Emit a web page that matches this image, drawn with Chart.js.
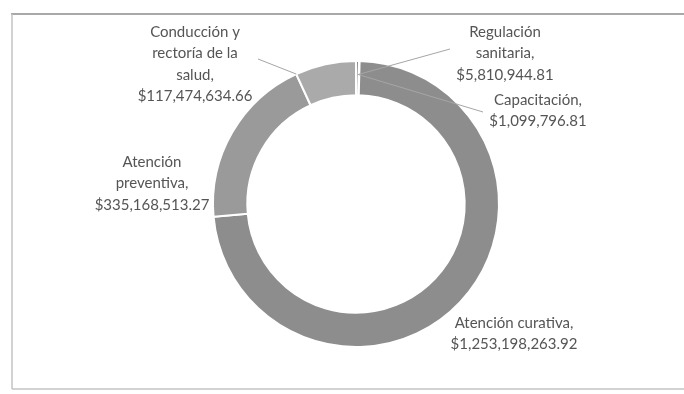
<!DOCTYPE html>
<html>
<head>
<meta charset="utf-8">
<script src="https://cdn.jsdelivr.net/npm/chart.js@4/dist/chart.umd.min.js"></script>
<style>
  html, body { margin: 0; padding: 0; background: #ffffff; }
  canvas { display: block; }
</style>
</head>
<body>
<canvas id="c" width="684" height="394"></canvas>
<script>
// Spending by function (pesos)
const categories = [
  'Regulación sanitaria',
  'Capacitación',
  'Atención curativa',
  'Atención preventiva',
  'Conducción y rectoría de la salud'
];
const amounts = [5810944.81, 1099796.81, 1253198263.92, 335168513.27, 117474634.66];
const labelLines = [
  ['Regulación', 'sanitaria,'],
  ['Capacitación,'],
  ['Atención curativa,'],
  ['Atención', 'preventiva,'],
  ['Conducción y', 'rectoría de la', 'salud,']
];
const sliceColors = ['#8d8d8d', '#959595', '#8d8d8d', '#9a9a9a', '#aaaaaa'];

// Placement of each data label relative to the doughnut centre,
// plus optional leader line (label end offset, and where it meets the ring).
const labelLayout = [
  { dx: 149, dy: -172, leader: { dx: 94, dy: -155, t: 0.5, r: 0.6 } },
  { dx: 182, dy: -104, leader: { dx: 127, dy: -92, t: 0.5, r: 0.6 } },
  { dx: 158, dy: 119 },
  { dx: -204, dy: -42 },
  { dx: -161, dy: -172, leader: { dx: -98, dy: -145, t: 0.0, r: 1.0 } }
];

const money = v => '$' + v.toLocaleString('en-US', { minimumFractionDigits: 2, maximumFractionDigits: 2 });

const framePlugin = {
  id: 'frame',
  beforeDraw(chart) {
    const ctx = chart.ctx;
    ctx.save();
    ctx.fillStyle = '#ffffff';
    ctx.fillRect(0, 0, chart.width, chart.height);
    ctx.strokeStyle = '#a8a8a8';
    ctx.lineWidth = 2;
    ctx.beginPath();
    ctx.moveTo(11, 14); ctx.lineTo(684, 14);
    ctx.stroke();
    ctx.strokeStyle = '#c4c4c4';
    ctx.lineWidth = 1.5;
    ctx.beginPath();
    ctx.moveTo(12, 14); ctx.lineTo(12, 389);
    ctx.moveTo(12, 389); ctx.lineTo(684, 389);
    ctx.stroke();
    ctx.restore();
  }
};

const labelPlugin = {
  id: 'sliceLabels',
  afterDatasetsDraw(chart) {
    const ctx = chart.ctx;
    const arcs = chart.getDatasetMeta(0).data;
    ctx.save();
    ctx.font = '15px Lato, "Open Sans", sans-serif';
    ctx.textAlign = 'center';
    ctx.textBaseline = 'middle';
    arcs.forEach((arc, i) => {
      const p = arc.getProps(['x', 'y', 'startAngle', 'endAngle', 'innerRadius', 'outerRadius'], true);
      const lay = labelLayout[i];
      if (lay.leader) {
        const L = lay.leader;
        const a = p.startAngle + (p.endAngle - p.startAngle) * L.t;
        const rr = p.innerRadius + (p.outerRadius - p.innerRadius) * L.r;
        ctx.strokeStyle = '#a6a6a6';
        ctx.lineWidth = 1;
        ctx.beginPath();
        ctx.moveTo(p.x + L.dx, p.y + L.dy);
        ctx.lineTo(p.x + Math.cos(a) * rr, p.y + Math.sin(a) * rr);
        ctx.stroke();
      }
      const lines = labelLines[i].concat([money(amounts[i])]);
      ctx.fillStyle = '#555555';
      lines.forEach((t, k) => {
        ctx.fillText(t, p.x + lay.dx, p.y + lay.dy + k * 21.5);
      });
    });
    ctx.restore();
  }
};

new Chart(document.getElementById('c'), {
  type: 'doughnut',
  data: {
    labels: categories,
    datasets: [{
      data: amounts,
      backgroundColor: sliceColors,
      borderColor: '#ffffff',
      borderWidth: 2,
      hoverOffset: 0
    }]
  },
  options: {
    responsive: false,
    animation: false,
    devicePixelRatio: 1,
    cutout: '76%',
    layout: { padding: { left: 212, right: 184, top: 60, bottom: 46 } },
    plugins: { legend: { display: false }, tooltip: { enabled: false } }
  },
  plugins: [framePlugin, labelPlugin]
});
</script>
</body>
</html>
